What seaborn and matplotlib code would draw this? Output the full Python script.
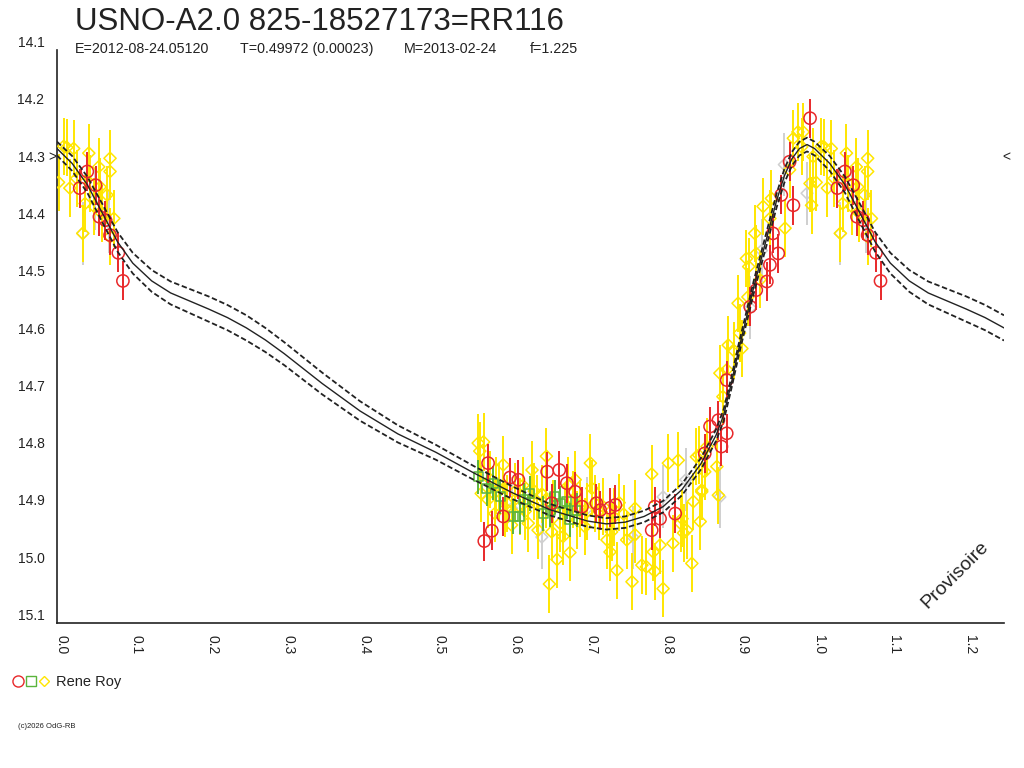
import numpy as np
import matplotlib
matplotlib.use('Agg')
import matplotlib.pyplot as plt
import seaborn as sns
from matplotlib.lines import Line2D
from matplotlib.legend_handler import HandlerTuple
from matplotlib.ticker import MultipleLocator

# ------------------ DATA (phase, magnitude) ------------------
title = "USNO-A2.0 825-18527173=RR116"
subtitle = ["E=2012-08-24.05120", "T=0.49972 (0.00023)", "M=2013-02-24", "f=1.225"]
observer = "Rene Roy"
mean_mag = 14.287

# model light curve over one period, with its uncertainty band
curve_phase = [0.00, 0.02, 0.04, 0.06, 0.08, 0.10, 0.125, 0.15, 0.175, 0.20, 0.225, 0.25,
               0.275, 0.30, 0.35, 0.40, 0.45, 0.50, 0.55, 0.60, 0.65, 0.70, 0.725, 0.75,
               0.775, 0.80, 0.825, 0.85, 0.87, 0.88, 0.89, 0.90, 0.91, 0.92, 0.93, 0.94,
               0.95, 0.96, 0.97, 0.98, 0.99]
curve_mag = [14.272, 14.298, 14.335, 14.385, 14.435, 14.472, 14.503, 14.524, 14.538, 14.552,
             14.567, 14.585, 14.606, 14.630, 14.682, 14.730, 14.770, 14.802, 14.838, 14.872,
             14.902, 14.922, 14.927, 14.924, 14.914, 14.897, 14.867, 14.822, 14.772, 14.737,
             14.682, 14.622, 14.567, 14.512, 14.462, 14.412, 14.362, 14.320, 14.290, 14.272,
             14.265]
curve_err = [0.012, 0.013, 0.014, 0.016, 0.017, 0.018, 0.019, 0.020, 0.021, 0.022, 0.022, 0.022,
             0.021, 0.020, 0.019, 0.017, 0.015, 0.013, 0.012, 0.011, 0.010, 0.010, 0.010, 0.010,
             0.010, 0.010, 0.010, 0.010, 0.010, 0.010, 0.010, 0.010, 0.010, 0.011, 0.011, 0.012,
             0.012, 0.012, 0.012, 0.012, 0.012]

red_phase = [0.030, 0.040, 0.051, 0.056, 0.070, 0.081, 0.087, 0.064,
             0.569, 0.564, 0.574, 0.598, 0.609, 0.589, 0.647, 0.663, 0.653, 0.673, 0.684,
             0.693, 0.712, 0.717, 0.730, 0.737, 0.789, 0.785, 0.796, 0.816,
             0.862, 0.873, 0.884, 0.877, 0.855, 0.884, 0.915, 0.923, 0.937, 0.941, 0.952,
             0.945, 0.972, 0.994, 0.967, 0.956]
red_mag = [14.341, 14.312, 14.336, 14.391, 14.423, 14.454, 14.503, 14.397,
           14.821, 14.957, 14.939, 14.846, 14.850, 14.914, 14.836, 14.833, 14.891, 14.856, 14.871,
           14.897, 14.891, 14.903, 14.899, 14.894, 14.897, 14.938, 14.918, 14.909,
           14.757, 14.746, 14.769, 14.792, 14.804, 14.676, 14.548, 14.519, 14.504, 14.475, 14.455,
           14.420, 14.371, 14.219, 14.295, 14.353]

green_phase = [0.556, 0.567, 0.585, 0.602, 0.616, 0.624, 0.642, 0.651, 0.664, 0.677, 0.686,
               0.576, 0.611, 0.657, 0.673]
green_mag = [14.845, 14.865, 14.880, 14.914, 14.885, 14.874, 14.909, 14.903, 14.891, 14.920,
             14.903, 14.856, 14.914, 14.880, 14.888]

yellow_phase = [0.002, 0.009, 0.013, 0.022, 0.042, 0.017, 0.026, 0.037, 0.044, 0.055, 0.057,
                0.070, 0.070, 0.066, 0.075, 0.070, 0.059, 0.049, 0.034,
                0.556, 0.563, 0.560, 0.589, 0.578, 0.600, 0.627, 0.622, 0.646, 0.635, 0.653,
                0.660, 0.650, 0.668, 0.677, 0.684, 0.704, 0.697, 0.706, 0.726, 0.730, 0.739,
                0.732, 0.752, 0.759, 0.763, 0.772, 0.778, 0.785, 0.787, 0.789, 0.796, 0.800,
                0.807, 0.820, 0.813, 0.823, 0.827, 0.838, 0.840, 0.847, 0.849, 0.851, 0.710,
                0.721, 0.681, 0.664, 0.569, 0.594, 0.611, 0.633, 0.686, 0.580, 0.605, 0.640,
                0.655, 0.670, 0.763, 0.831, 0.825, 0.855, 0.715, 0.735, 0.748, 0.742,
                0.558, 0.572, 0.583, 0.592, 0.615, 0.618, 0.630, 0.645, 0.675, 0.690, 0.700,
                0.844, 0.851, 0.873, 0.858, 0.871, 0.879, 0.875, 0.884, 0.886, 0.893, 0.904,
                0.901, 0.912, 0.923, 0.928,
                0.899, 0.910, 0.913, 0.921, 0.932, 0.943, 0.941, 0.961, 0.967, 0.972, 0.978,
                0.985, 0.983, 0.994, 0.996, 0.998]
yellow_mag = [14.331, 14.268, 14.270, 14.272, 14.280, 14.341, 14.324, 14.368, 14.333, 14.304,
              14.339, 14.289, 14.312, 14.353, 14.394, 14.426, 14.385, 14.373, 14.420,
              14.786, 14.784, 14.874, 14.824, 14.909, 14.929, 14.833, 14.926, 14.809, 14.938,
              14.941, 14.989, 15.032, 14.949, 14.977, 14.850, 14.821, 14.932, 14.865, 14.955,
              14.976, 15.008, 14.941, 14.955, 15.028, 14.900, 14.999, 15.002, 14.840, 14.976,
              15.010, 14.964, 15.040, 14.821, 14.816, 14.961, 14.926, 14.943, 14.996, 14.888,
              14.807, 14.923, 14.868, 14.891, 14.897, 14.885, 14.926, 14.885, 14.891, 14.897,
              14.891, 14.920, 14.860, 14.870, 14.875, 14.900, 14.905, 14.946, 14.938, 14.918,
              14.836, 14.905, 14.915, 14.910, 14.890,
              14.800, 14.850, 14.870, 14.900, 14.860, 14.905, 14.870, 14.885, 14.860, 14.900,
              14.905,
              14.810, 14.871, 14.877, 14.792, 14.827, 14.705, 14.664, 14.658, 14.615, 14.624,
              14.621, 14.594, 14.531, 14.455, 14.501,
              14.542, 14.464, 14.478, 14.420, 14.373, 14.359, 14.394, 14.411, 14.309, 14.254,
              14.243, 14.243, 14.269, 14.333, 14.371, 14.286]

gray_phase = [0.034, 0.050, 0.068, 0.875, 0.600, 0.640, 0.700, 0.760, 0.800, 0.830, 0.930,
              0.990, 0.960, 0.915]
gray_mag = [14.420, 14.360, 14.400, 14.880, 14.900, 14.950, 14.900, 14.950, 14.880, 14.850,
            14.450, 14.350, 14.300, 14.550]

# typical error bar half-lengths per series
red_err, green_err, yellow_err, gray_err = 0.034, 0.030, 0.050, 0.055

RED, GREEN, YELLOW, GRAY = '#e8282a', '#5ab43c', '#ffe600', '#cfcfcf'
INK = '#222222'


def fold(phase, mag, upto=0.25):
    # repeat the start of the cycle after phase 1.0
    phase = np.asarray(phase)
    mag = np.asarray(mag, dtype=float)
    extra = phase <= upto
    p = np.concatenate([phase, phase[extra] + 1.0])
    m = np.concatenate([mag, mag[extra]])
    order = np.argsort(p)
    return p[order], m[order]


# ------------------ FIGURE ------------------
sns.set_style('white')
plt.rcParams['font.family'] = ['Liberation Sans', 'DejaVu Sans']

fig = plt.figure(figsize=(10.24, 7.68), dpi=100)
ax = fig.add_axes([57 / 1024, 1 - 623 / 768, (1004 - 57) / 1024, (623 - 50) / 768])

# observations: gray first, red on top
series = [(gray_phase, gray_mag, gray_err, GRAY, 'D', 6.0),
          (yellow_phase, yellow_mag, yellow_err, YELLOW, 'D', 6.2),
          (green_phase, green_mag, green_err, GREEN, 's', 6.5),
          (red_phase, red_mag, red_err, RED, 'o', 8.8)]
for i, (ph, mg, err, col, mk, ms) in enumerate(series):
    x, y = fold(ph, mg)
    ax.errorbar(x, y, yerr=err, fmt='none', ecolor=col, elinewidth=1.4, capsize=0,
                zorder=2 + i)
    sns.scatterplot(x=x, y=y, marker=mk, s=ms ** 2, facecolor='none', edgecolor=col,
                    linewidth=1.1, ax=ax, zorder=2 + i, legend=False)

# model curve with dashed envelope
cp, cm = fold(curve_phase, curve_mag)
_, ce = fold(curve_phase, curve_err)
sns.lineplot(x=cp, y=cm, color=INK, linewidth=1.0, ax=ax, zorder=10, sort=False)
for sign in (-1, 1):
    sns.lineplot(x=cp, y=cm + sign * ce, color=INK, linewidth=1.3, ax=ax, zorder=10,
                 sort=False, linestyle=(0, (3, 1.5)))

# axes
ax.set_xlim(0, 1.25)
ax.set_ylim(15.1, 14.1)
for s in ['top', 'right']:
    ax.spines[s].set_visible(False)
for s in ['left', 'bottom']:
    ax.spines[s].set_color(INK)
    ax.spines[s].set_linewidth(1.2)

xt = np.round(np.arange(0, 1.21, 0.1), 1)
ax.set_xticks(xt)
ax.set_xticklabels([f"{v:.1f}" for v in xt])
ax.xaxis.set_minor_locator(MultipleLocator(0.05))
yt = np.round(np.arange(14.1, 15.11, 0.1), 1)
ax.set_yticks(yt)
ax.set_yticklabels([f"{v:.1f}" for v in yt])
ax.tick_params(axis='x', which='both', direction='out', length=7.5, width=1, color=INK,
               pad=1, labelsize=10, labelcolor=INK)
ax.tick_params(axis='y', direction='out', length=8, width=1, color=INK, pad=1,
               labelsize=10, labelcolor=INK)
for lab in ax.get_xticklabels():
    lab.set_rotation(-90)
    lab.set_rotation_mode('anchor')
    lab.set_ha('left')
    lab.set_va('baseline')
for lab in ax.get_yticklabels():
    lab.set_va('bottom')
ax.set_xlabel('')
ax.set_ylabel('')

# mean magnitude markers
ax.text(-0.001, mean_mag, '>', transform=ax.get_yaxis_transform(), ha='right',
        va='center', fontsize=10, color=INK, clip_on=False)
ax.text(0.998, mean_mag, '<', transform=ax.get_yaxis_transform(), ha='left',
        va='center', fontsize=10, color=INK, clip_on=False)

# titles
fig.text(75 / 1024, 1 - 30 / 768, title, fontsize=22.5, color=INK, va='baseline')
for txt, px in zip(subtitle, [75, 240, 404, 530]):
    fig.text(px / 1024, 1 - 53 / 768, txt, fontsize=10.3, color=INK, va='baseline')

# watermark and footer
fig.text(955 / 1024, 1 - 575 / 768, 'Provisoire', rotation=45, ha='center', va='center',
         fontsize=14, color=INK)
fig.text(18 / 1024, 1 - 727 / 768, '(c)2026 OdG-RB', fontsize=5.5, color=INK, va='center')

# observer legend
h_circle = Line2D([], [], marker='o', ls='none', mfc='none', mec=RED, ms=8, mew=1)
h_square = Line2D([], [], marker='s', ls='none', mfc='none', mec=GREEN, ms=6.5, mew=1)
h_diamond = Line2D([], [], marker='D', ls='none', mfc='none', mec=YELLOW, ms=5.5, mew=1)
fig.legend(handles=[(h_circle, h_square, h_diamond)], labels=[observer],
           handler_map={tuple: HandlerTuple(ndivide=None, pad=0.05)},
           loc='center left', bbox_to_anchor=(12 / 1024, 1 - 682 / 768), frameon=False,
           fontsize=10.5, handlelength=2.6, handletextpad=0.4, borderpad=0,
           borderaxespad=0, labelcolor=INK)

plt.savefig('out.png', dpi=100)
